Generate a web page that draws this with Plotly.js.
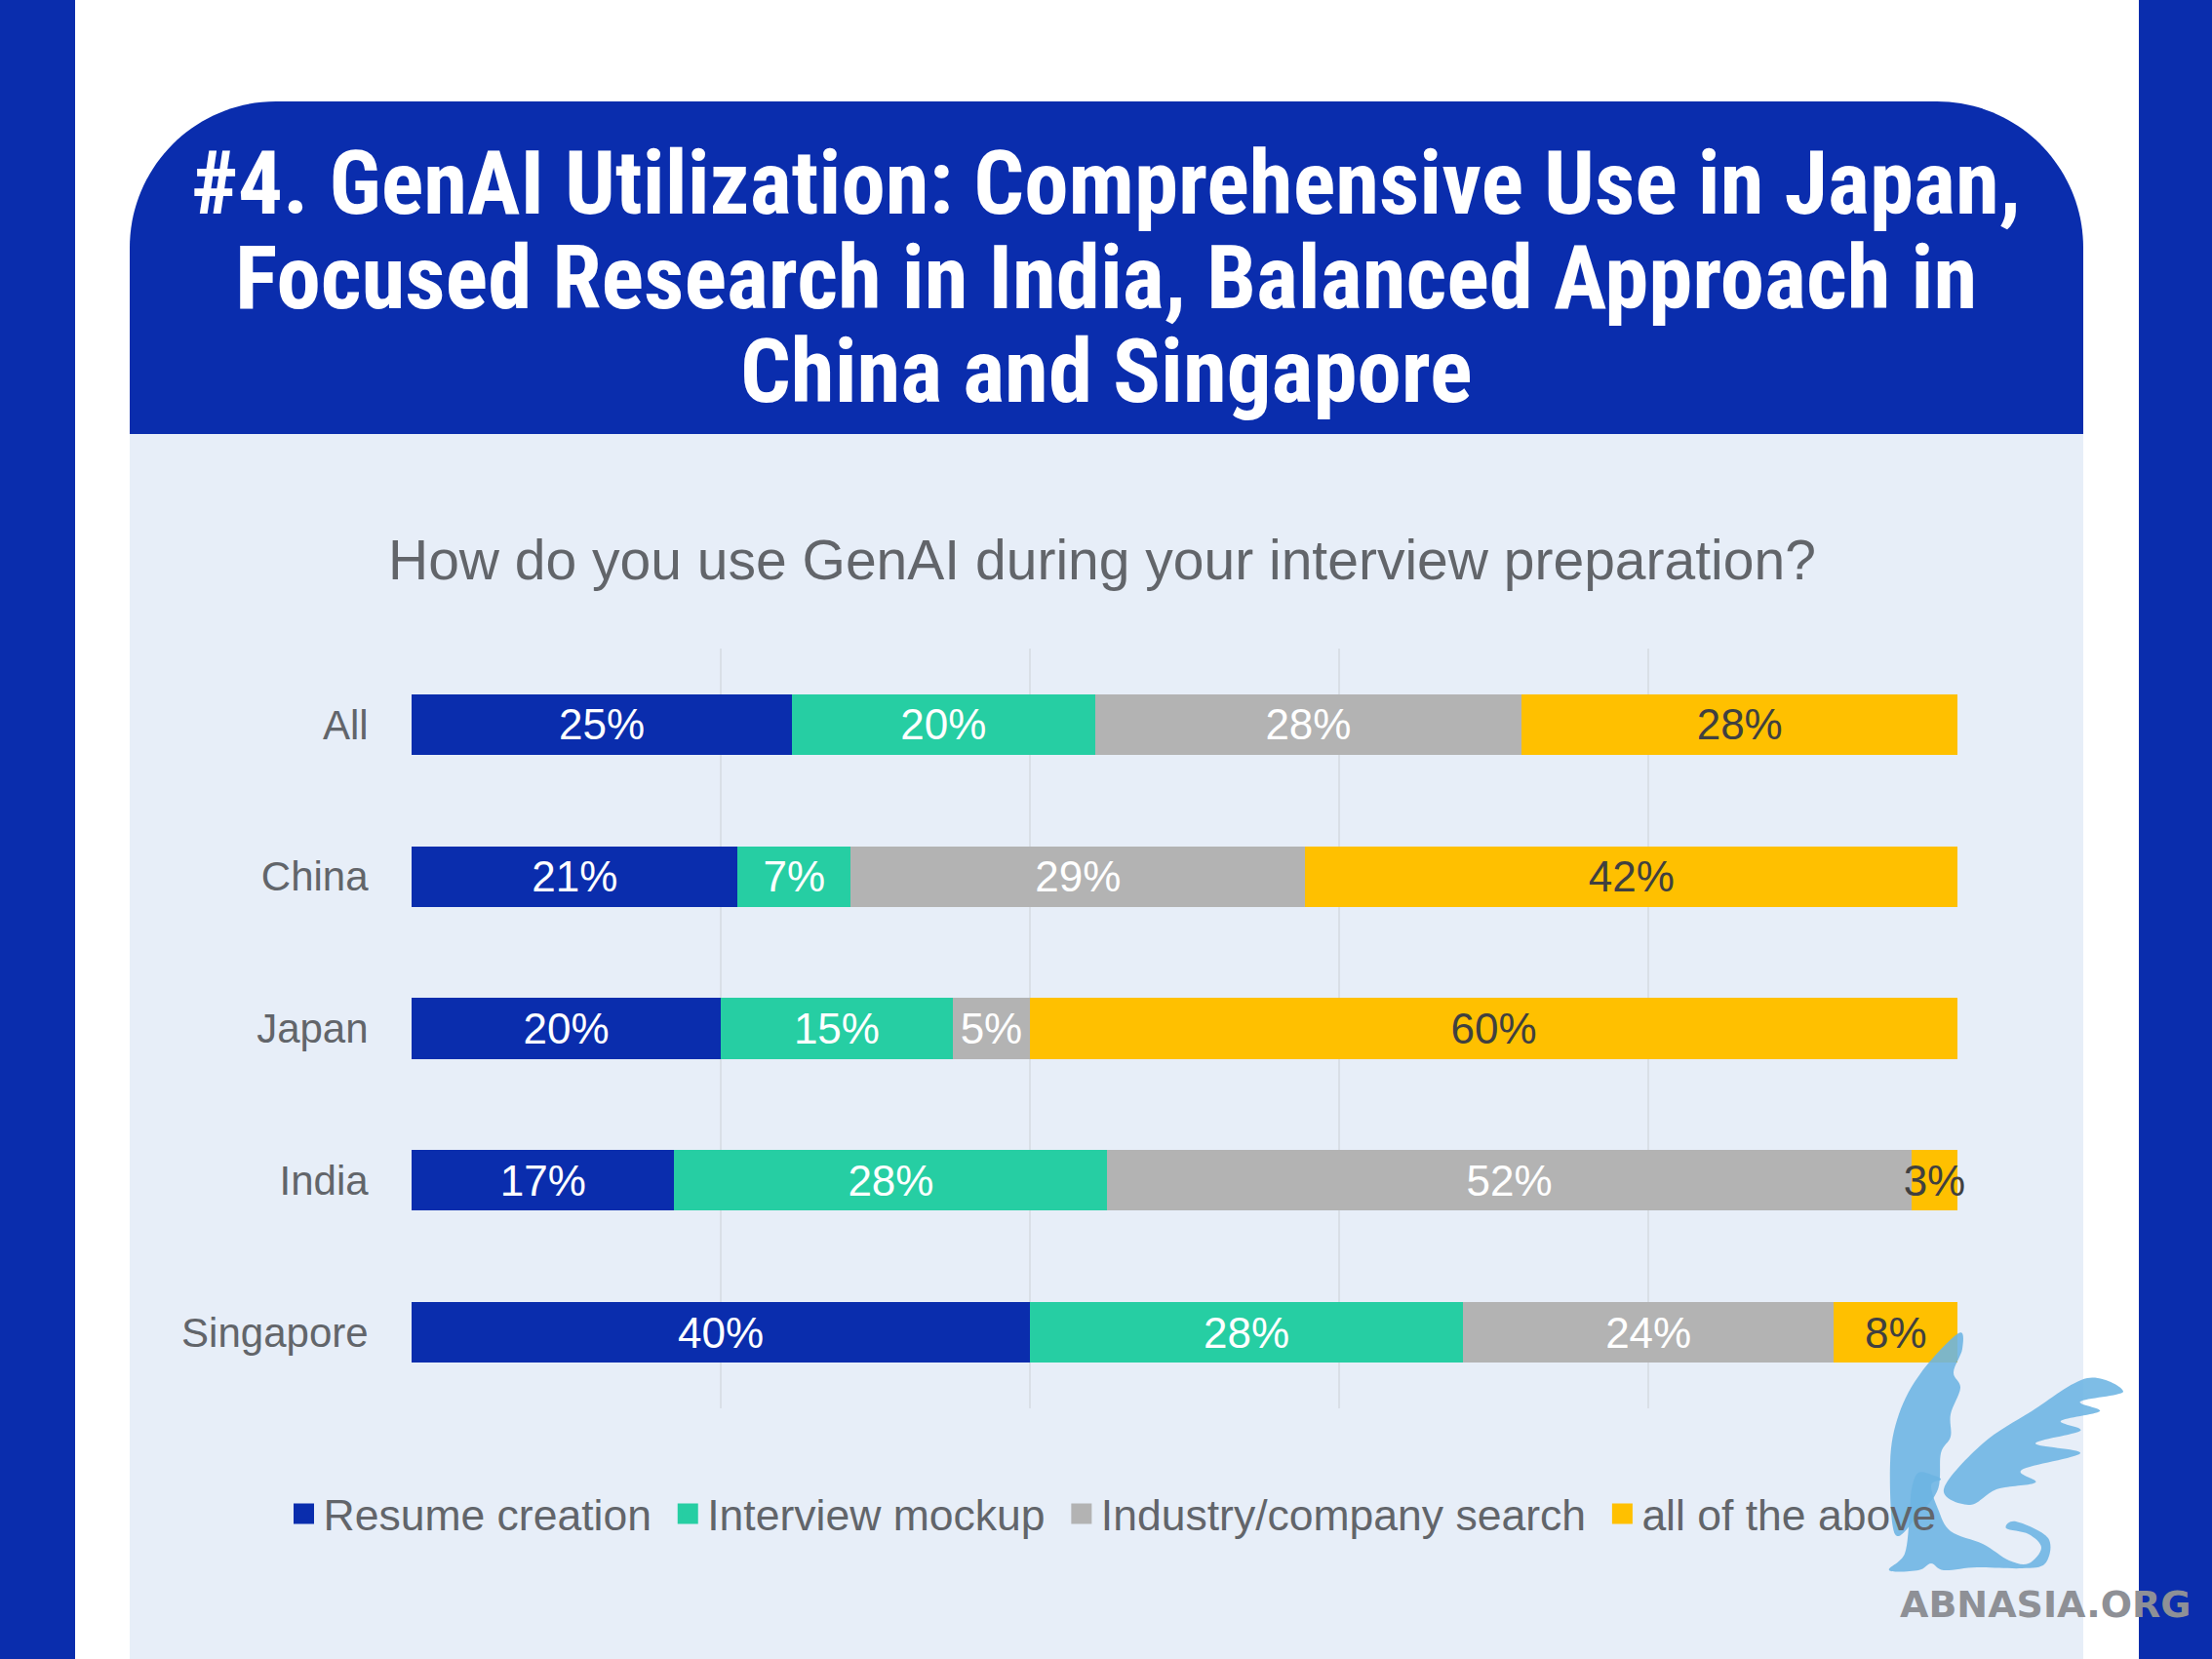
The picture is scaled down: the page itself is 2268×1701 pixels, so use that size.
<!DOCTYPE html>
<html>
<head>
<meta charset="utf-8">
<script src="https://cdn.plot.ly/plotly-3.0.1.min.js"></script>
<style>
html,body{margin:0;padding:0;background:#ffffff;}
#chart{width:2268px;height:1701px;}
</style>
</head>
<body>
<div id="chart"></div>
<script>
// ---- data ----
const categories = ['All', 'China', 'Japan', 'India', 'Singapore'];
const seriesNames = ['Resume creation', 'Interview mockup', 'Industry/company search', 'all of the above'];
const resumeCreation = [24.6, 21.1, 20, 17, 40];
const interviewMockup = [19.6, 7.3, 15, 28, 28];
const industrySearch = [27.6, 29.4, 5, 52, 24];
const allOfTheAbove = [28.2, 42.2, 60, 3, 8];
const titleLines = [
  '#4. GenAI Utilization: Comprehensive Use in Japan,',
  'Focused Research in India, Balanced Approach in',
  'China and Singapore'
];
const subtitle = 'How do you use GenAI during your interview preparation?';
const watermark = 'ABNASIA.ORG';

// ---- styles ----
const W = 2268, H = 1701;
const colors = ['#0A2DAD', '#26CEA3', '#B3B3B3', '#FFC000'];
const labelColors = ['#ffffff', '#ffffff', '#ffffff', '#404040'];
const seriesValues = [resumeCreation, interviewMockup, industrySearch, allOfTheAbove];
const px = x => x / W;
const py = y => 1 - y / H;
const chartFont = 'Liberation Sans, Arial, sans-serif';
const grayText = '#62656A';

const traces = [];
seriesValues.forEach((vals, i) => {
  traces.push({
    type: 'bar', orientation: 'h', name: seriesNames[i],
    x: vals, y: categories,
    marker: {color: colors[i], line: {width: 0}},
    texttemplate: '%{x:.0f}%',
    textposition: 'inside', insidetextanchor: 'middle',
    constraintext: 'none', textangle: 0,
    insidetextfont: {family: chartFont, size: 44, color: labelColors[i]},
    cliponaxis: false, showlegend: false, hoverinfo: 'skip'
  });
});
// legend entries
seriesValues.forEach((vals, i) => {
  traces.push({
    type: 'scatter', mode: 'markers',
    name: seriesNames[i] + (i < seriesNames.length - 1 ? '\u00a0' : ''),
    x: [null], y: [null],
    marker: {symbol: 'square', size: 16, color: colors[i], line: {width: 5, color: colors[i]}},
    showlegend: true, hoverinfo: 'skip'
  });
});

// banner path with rounded top corners
const bx0 = 133, bx1 = 2136, by0 = 104, by1 = 445, r = 150;
const k = 0.5523;
const bannerPath = [
  `M ${px(bx0)} ${py(by1)}`,
  `L ${px(bx0)} ${py(by0 + r)}`,
  `C ${px(bx0)} ${py(by0 + r - r * k)} ${px(bx0 + r - r * k)} ${py(by0)} ${px(bx0 + r)} ${py(by0)}`,
  `L ${px(bx1 - r)} ${py(by0)}`,
  `C ${px(bx1 - r + r * k)} ${py(by0)} ${px(bx1)} ${py(by0 + r - r * k)} ${px(bx1)} ${py(by0 + r)}`,
  `L ${px(bx1)} ${py(by1)} Z`
].join(' ');

// smooth closed path (Catmull-Rom) for the watermark griffin
function smoothPath(pts) {
  const n = pts.length;
  let d = `M ${px(pts[0][0])} ${py(pts[0][1])}`;
  for (let i = 0; i < n; i++) {
    const p0 = pts[(i - 1 + n) % n], p1 = pts[i], p2 = pts[(i + 1) % n], p3 = pts[(i + 2) % n];
    const c1 = [p1[0] + (p2[0] - p0[0]) / 6, p1[1] + (p2[1] - p0[1]) / 6];
    const c2 = [p2[0] - (p3[0] - p1[0]) / 6, p2[1] - (p3[1] - p1[1]) / 6];
    d += ` C ${px(c1[0])} ${py(c1[1])} ${px(c2[0])} ${py(c2[1])} ${px(p2[0])} ${py(p2[1])}`;
  }
  return d + ' Z';
}
const leftWing = [[1943,1573],[1938,1500],[1947,1450],[1970,1407],[2008,1367],[2012,1383],[2003,1407],[2010,1423],[2000,1450],[2000,1473],[1990,1490],[1987,1527],[1967,1553]];
const rightWing = [[1993,1527],[2033,1480],[2083,1447],[2140,1413],[2177,1427],[2133,1437],[2153,1447],[2113,1457],[2133,1467],[2087,1480],[2133,1490],[2073,1507],[2087,1520],[2047,1527],[2020,1543]];
const body = [[1937,1610],[1953,1593],[1958,1553],[1960,1527],[1967,1510],[1983,1513],[1990,1517],[1980,1523],[1987,1547],[2000,1570],[2033,1583],[2060,1600],[2080,1603],[2093,1587],[2080,1573],[2057,1567],[2067,1560],[2100,1577],[2097,1603],[2073,1608],[2027,1607],[1993,1610],[1980,1603],[1967,1610]];

const shapes = [
  {type: 'rect', xref: 'paper', yref: 'paper', x0: 0, x1: px(77), y0: 0, y1: 1, fillcolor: '#0A2DAD', line: {width: 0}, layer: 'below'},
  {type: 'rect', xref: 'paper', yref: 'paper', x0: px(2193), x1: 1, y0: 0, y1: 1, fillcolor: '#0A2DAD', line: {width: 0}, layer: 'below'},
  {type: 'rect', xref: 'paper', yref: 'paper', x0: px(bx0), x1: px(bx1), y0: 0, y1: py(by1), fillcolor: '#E7EEF8', line: {width: 0}, layer: 'below'},
  {type: 'path', xref: 'paper', yref: 'paper', path: bannerPath, fillcolor: '#0A2DAD', line: {width: 0}, layer: 'below'}
];
[leftWing, rightWing, body].forEach(p => shapes.push({
  type: 'path', xref: 'paper', yref: 'paper', path: smoothPath(p),
  fillcolor: '#6CB4E3', opacity: 0.88, line: {width: 0}, layer: 'above'
}));

const titleY = [188, 285, 381];
const annotations = titleLines.map((t, i) => ({
  xref: 'paper', yref: 'paper', x: px(1134), y: py(titleY[i]),
  xanchor: 'center', yanchor: 'middle', showarrow: false,
  text: '<b>' + t + '</b>',
  font: {family: 'Roboto Condensed, Liberation Sans Narrow, Noto Sans, sans-serif', size: 91, color: '#ffffff'}
}));
annotations.push({
  xref: 'paper', yref: 'paper', x: px(1130), y: py(574),
  xanchor: 'center', yanchor: 'middle', showarrow: false,
  text: subtitle,
  font: {family: chartFont, size: 57, color: grayText}
});
annotations.push({
  xref: 'paper', yref: 'paper', x: px(2097), y: py(1645),
  xanchor: 'center', yanchor: 'middle', showarrow: false,
  text: '<b>' + watermark + '</b>',
  font: {family: 'DejaVu Sans, sans-serif', size: 38, color: '#8E9096'}
});

const layout = {
  width: W, height: H,
  margin: {l: 0, r: 0, t: 0, b: 0},
  paper_bgcolor: '#ffffff', plot_bgcolor: 'rgba(0,0,0,0)',
  barmode: 'stack', bargap: 0.6,
  showlegend: true,
  legend: {
    orientation: 'h', x: px(1141), xanchor: 'center', y: py(1552), yanchor: 'middle',
    font: {family: chartFont, size: 44.5, color: grayText},
    bgcolor: 'rgba(0,0,0,0)', traceorder: 'normal', itemclick: false
  },
  xaxis: {
    domain: [px(422), px(2008)], range: [0, 100.05],
    showgrid: true, gridcolor: '#D9DFE7', gridwidth: 1.5,
    tick0: 0, dtick: 20, showticklabels: false, zeroline: false, showline: false, fixedrange: true
  },
  yaxis: {
    domain: [py(1444), py(665)], autorange: 'reversed', type: 'category',
    showgrid: false, zeroline: false, showline: false,
    ticks: 'outside', ticklen: 35, tickcolor: 'rgba(0,0,0,0)',
    tickfont: {family: chartFont, size: 42, color: grayText}, fixedrange: true
  },
  shapes: shapes,
  annotations: annotations
};

Plotly.newPlot('chart', traces, layout, {staticPlot: true, displayModeBar: false});
</script>
</body>
</html>
